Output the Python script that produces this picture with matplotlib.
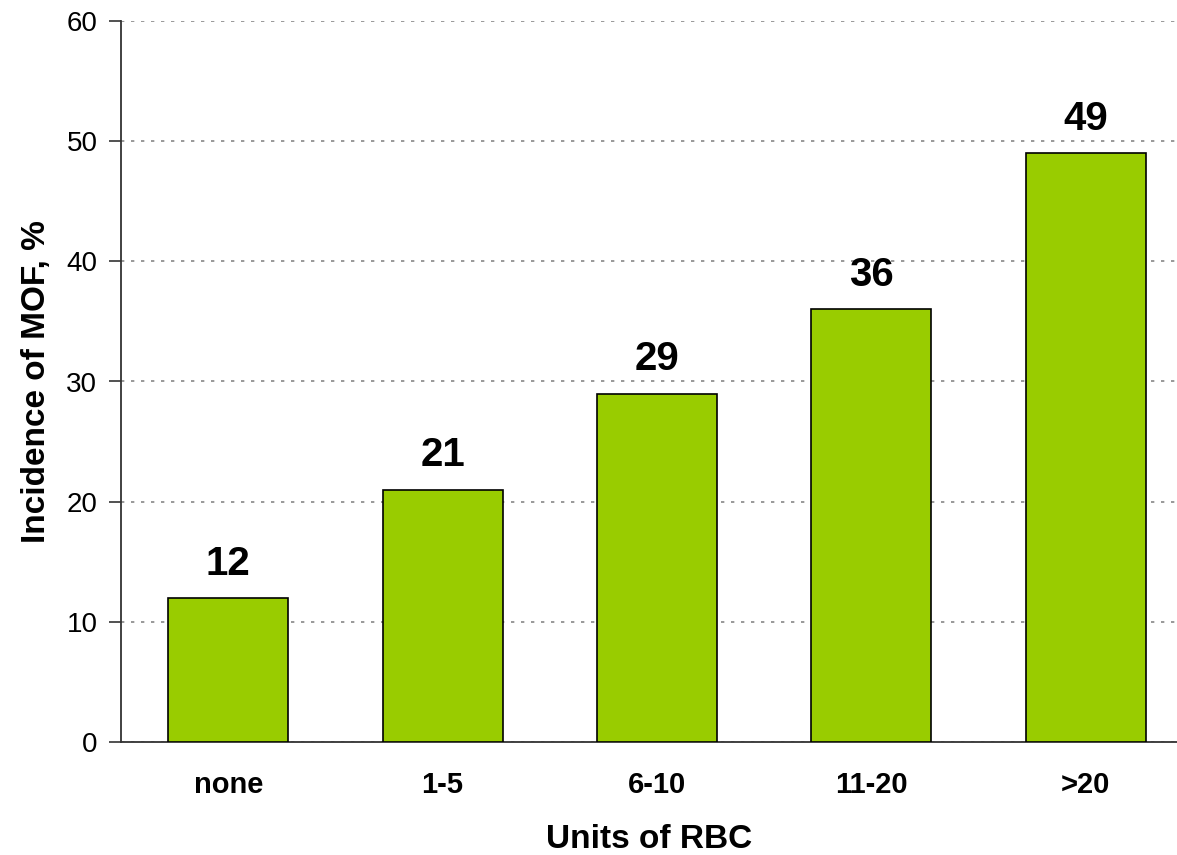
import matplotlib
matplotlib.use("Agg")
import matplotlib.pyplot as plt

categories = ["none", "1-5", "6-10", "11-20", ">20"]
values = [12, 21, 29, 36, 49]
yticks = [0, 10, 20, 30, 40, 50, 60]

plt.rcParams['font.family'] = ['Liberation Sans', 'DejaVu Sans']

fig = plt.figure(figsize=(11.77, 8.55), dpi=100)
ax = fig.add_axes([121/1177, 1-742/855, 1-121/1177, (742-21)/855])

x = list(range(len(categories)))
bars = ax.bar(x, values, width=0.56, color="#99CC00", edgecolor="black", linewidth=1.2, zorder=3)

for xi, v in zip(x, values):
    ax.annotate(str(v), (xi, v), xytext=(0, 11), textcoords="offset points",
                ha="center", va="bottom", fontsize=29, fontweight="bold")

ax.set_xlim(-0.5, 4.5 - 16/214.5)
ax.set_ylim(0, 60)
ax.set_yticks(yticks)
ax.set_xticks(x)
ax.set_xticklabels(categories, fontsize=21, fontweight="bold")
ax.tick_params(axis="x", length=0, pad=21)
ax.tick_params(axis="y", length=9, width=1.2, labelsize=20, pad=8, color="#333333")
ax.yaxis.grid(True, linestyle=(0, (2, 4)), color="#888888", linewidth=1.2, zorder=0)
for s in ["top", "right"]:
    ax.spines[s].set_visible(False)
for s in ["left", "bottom"]:
    ax.spines[s].set_color("#333333")
    ax.spines[s].set_linewidth(1.3)

ax.set_xlabel("Units of RBC", fontsize=24, fontweight="bold", labelpad=18)
ax.set_ylabel("Incidence of MOF, %", fontsize=24, fontweight="bold", labelpad=10)

fig.savefig("out.png", dpi=100)
